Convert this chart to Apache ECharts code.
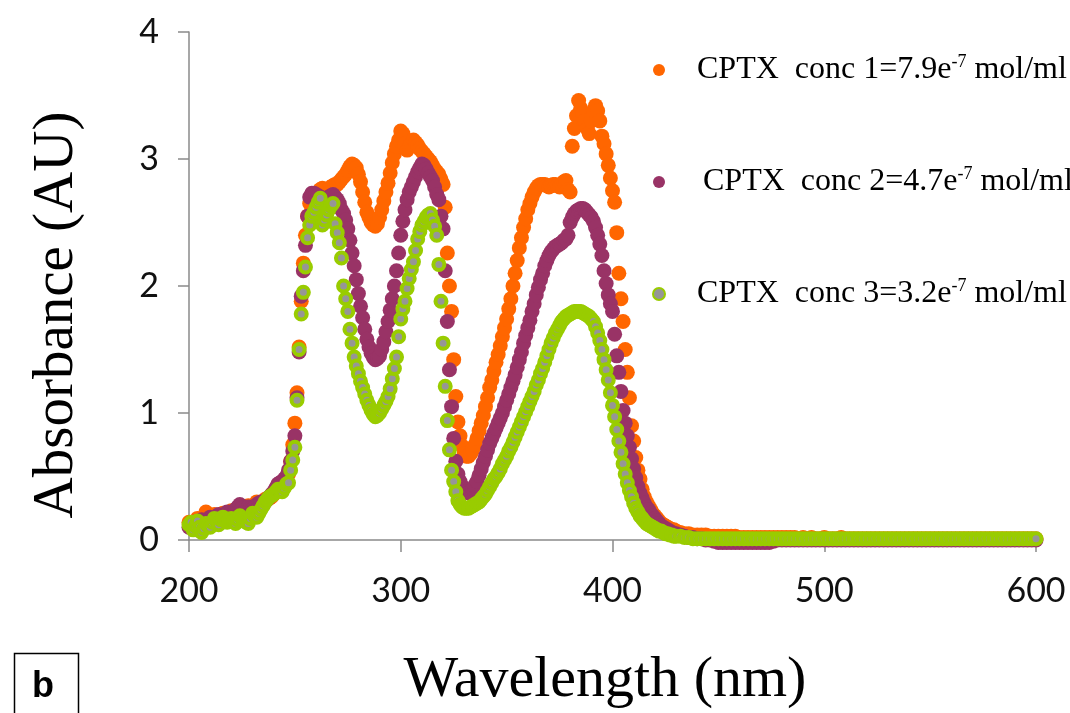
<!DOCTYPE html>
<html>
<head>
<meta charset="utf-8">
<title>CPTX absorbance</title>
<script src="https://cdn.jsdelivr.net/npm/echarts@6/dist/echarts.min.js"></script>
<style>
  html, body { margin: 0; padding: 0; background: #fff; }
  #chart { width: 1070px; height: 713px; }
</style>
</head>
<body>
<div id="chart"></div>
<script>
// wavelength grid (nm): 1 nm steps up to 430, 2 nm in the flat tail
const wavelengths = [
  200,201,202,203,204,205,206,207,208,209,210,211,212,213,214,215,216,217,218,219,
  220,221,222,223,224,225,226,227,228,229,230,231,232,233,234,235,236,237,238,239,
  240,241,242,243,244,245,246,247,248,249,250,251,252,253,254,255,256,257,258,259,
  260,261,262,263,264,265,266,267,268,269,270,271,272,273,274,275,276,277,278,279,
  280,281,282,283,284,285,286,287,288,289,290,291,292,293,294,295,296,297,298,299,
  300,301,302,303,304,305,306,307,308,309,310,311,312,313,314,315,316,317,318,319,
  320,321,322,323,324,325,326,327,328,329,330,331,332,333,334,335,336,337,338,339,
  340,341,342,343,344,345,346,347,348,349,350,351,352,353,354,355,356,357,358,359,
  360,361,362,363,364,365,366,367,368,369,370,371,372,373,374,375,376,377,378,379,
  380,381,382,383,384,385,386,387,388,389,390,391,392,393,394,395,396,397,398,399,
  400,401,402,403,404,405,406,407,408,409,410,411,412,413,414,415,416,417,418,419,
  420,421,422,423,424,425,426,427,428,429,430,
  432,434,436,438,440,442,444,446,448,450,452,454,456,458,460,462,464,466,468,470,
  472,474,476,478,480,482,484,486,488,490,492,494,496,498,500,502,504,506,508,510,
  512,514,516,518,520,522,524,526,528,530,532,534,536,538,540,542,544,546,548,550,
  552,554,556,558,560,562,564,566,568,570,572,574,576,578,580,582,584,586,588,590,
  592,594,596,598,600
];

// conc 1 = 7.9e-7 mol/ml
const conc1 = [
  0.14,0.12,0.10,0.14,0.17,0.15,0.12,0.18,0.22,0.19,0.16,0.18,0.20,0.17,0.14,0.18,0.21,0.19,0.17,0.20,
  0.23,0.21,0.19,0.22,0.25,0.22,0.20,0.24,0.27,0.26,0.25,0.27,0.30,0.28,0.27,0.30,0.32,0.32,0.33,0.34,
  0.36,0.38,0.40,0.41,0.42,0.44,0.47,0.52,0.62,0.75,0.92,1.16,1.52,1.88,2.18,2.40,2.55,2.65,2.70,2.71,
  2.72,2.74,2.76,2.77,2.76,2.75,2.76,2.78,2.79,2.80,2.80,2.82,2.84,2.86,2.88,2.91,2.94,2.96,2.95,2.93,
  2.88,2.82,2.74,2.66,2.58,2.54,2.50,2.48,2.47,2.49,2.54,2.60,2.67,2.74,2.81,2.89,2.97,3.04,3.10,3.15,
  3.22,3.20,3.12,3.07,3.10,3.12,3.15,3.13,3.11,3.08,3.06,3.04,3.02,3.00,2.98,2.95,2.92,2.90,2.88,2.84,
  2.80,2.62,2.26,2.00,1.80,1.42,1.13,0.93,0.82,0.74,0.68,0.66,0.66,0.68,0.71,0.75,0.80,0.86,0.92,0.98,
  1.05,1.12,1.20,1.26,1.33,1.40,1.46,1.53,1.60,1.67,1.74,1.82,1.90,2.00,2.10,2.20,2.30,2.38,2.46,2.53,
  2.60,2.65,2.70,2.74,2.77,2.79,2.80,2.80,2.80,2.79,2.78,2.79,2.80,2.80,2.79,2.78,2.80,2.82,2.83,2.76,
  2.74,3.10,3.24,3.34,3.46,3.40,3.36,3.30,3.24,3.20,3.30,3.38,3.42,3.38,3.30,3.18,3.12,3.04,2.95,2.85,
  2.75,2.66,2.42,2.10,1.90,1.72,1.50,1.32,1.12,0.90,0.78,0.65,0.55,0.48,0.40,0.34,0.30,0.27,0.24,0.21,
  0.19,0.17,0.15,0.13,0.12,0.11,0.10,0.09,0.08,0.08,0.07,
  0.06,0.05,0.05,0.04,0.04,0.04,0.04,0.03,0.03,0.03,0.03,0.03,0.03,0.03,0.02,0.02,0.02,0.02,0.02,0.02,
  0.02,0.02,0.02,0.02,0.02,0.02,0.02,0.02,0.01,0.02,0.01,0.02,0.01,0.01,0.02,0.01,0.01,0.01,0.02,0.01,
  0.01,0.01,0.01,0.01,0.01,0.01,0.01,0.01,0.01,0.01,0.01,0.01,0.01,0.01,0.01,0.01,0.01,0.01,0.01,0.01,
  0.01,0.01,0.01,0.01,0.01,0.01,0.01,0.01,0.01,0.01,0.01,0.01,0.01,0.01,0.01,0.01,0.01,0.01,0.01,0.01,
  0.01,0.01,0.01,0.01,0.01
];

// conc 2 = 4.7e-7 mol/ml
const conc2 = [
  0.10,0.12,0.14,0.11,0.08,0.12,0.16,0.14,0.12,0.15,0.18,0.16,0.14,0.17,0.20,0.18,0.16,0.19,0.22,0.20,
  0.18,0.21,0.24,0.26,0.28,0.25,0.22,0.24,0.26,0.25,0.24,0.26,0.28,0.29,0.30,0.30,0.30,0.32,0.34,0.36,
  0.38,0.41,0.44,0.45,0.46,0.48,0.50,0.55,0.62,0.70,0.82,1.12,1.48,1.92,2.12,2.32,2.55,2.70,2.73,2.73,
  2.72,2.71,2.70,2.69,2.68,2.69,2.70,2.71,2.72,2.70,2.68,2.65,2.60,2.57,2.52,2.45,2.36,2.26,2.16,2.05,
  1.94,1.84,1.75,1.66,1.58,1.52,1.47,1.44,1.42,1.43,1.45,1.50,1.56,1.64,1.72,1.81,1.90,2.00,2.12,2.26,
  2.40,2.51,2.60,2.68,2.74,2.78,2.82,2.86,2.90,2.93,2.96,2.95,2.92,2.89,2.86,2.83,2.78,2.72,2.68,2.55,
  2.45,2.12,1.72,1.34,1.05,0.80,0.62,0.52,0.46,0.42,0.40,0.38,0.37,0.38,0.40,0.43,0.46,0.51,0.56,0.61,
  0.66,0.71,0.76,0.80,0.84,0.88,0.92,0.96,1.00,1.05,1.10,1.15,1.20,1.25,1.30,1.36,1.42,1.48,1.55,1.61,
  1.67,1.73,1.80,1.86,1.93,1.99,2.05,2.10,2.16,2.20,2.24,2.27,2.29,2.31,2.32,2.33,2.34,2.36,2.37,2.40,
  2.50,2.54,2.57,2.59,2.60,2.61,2.61,2.60,2.58,2.56,2.54,2.51,2.46,2.40,2.33,2.24,2.12,2.02,1.93,1.86,
  1.80,1.62,1.45,1.32,1.17,1.02,0.92,0.82,0.73,0.64,0.56,0.49,0.42,0.37,0.33,0.29,0.26,0.24,0.21,0.19,
  0.17,0.15,0.13,0.11,0.10,0.09,0.08,0.07,0.06,0.05,0.05,
  0.04,0.03,0.02,0.02,0.01,0.01,0.00,0.00,-0.01,-0.02,-0.02,-0.02,-0.02,-0.02,-0.02,-0.02,-0.02,-0.02,-0.02,-0.02,
  -0.02,-0.02,-0.01,0.00,0.00,0.00,0.00,0.00,0.00,0.00,0.00,0.00,0.00,0.00,0.00,0.00,0.00,0.00,0.00,0.00,
  0.00,0.00,0.00,0.00,0.00,0.00,0.00,0.00,0.00,0.00,0.00,0.00,0.00,0.00,0.00,0.00,0.00,0.00,0.00,0.00,
  0.00,0.00,0.00,0.00,0.00,0.00,0.00,0.00,0.00,0.00,0.00,0.00,0.00,0.00,0.00,0.00,0.00,0.00,0.00,0.00,
  0.00,0.00,0.00,0.00,0.00
];

// conc 3 = 3.2e-7 mol/ml
const conc3 = [
  0.12,0.14,0.08,0.11,0.15,0.10,0.06,0.09,0.13,0.11,0.10,0.14,0.17,0.15,0.12,0.16,0.18,0.16,0.14,0.15,
  0.17,0.15,0.13,0.16,0.19,0.17,0.15,0.14,0.13,0.17,0.21,0.19,0.18,0.21,0.24,0.27,0.30,0.32,0.34,0.35,
  0.36,0.38,0.40,0.39,0.38,0.41,0.44,0.45,0.55,0.63,0.73,1.10,1.50,1.78,1.95,2.15,2.38,2.48,2.55,2.58,
  2.62,2.66,2.69,2.48,2.52,2.56,2.60,2.63,2.65,2.49,2.42,2.34,2.22,2.00,1.90,1.80,1.66,1.55,1.44,1.37,
  1.31,1.25,1.20,1.15,1.10,1.06,1.02,0.99,0.97,0.98,1.00,1.03,1.06,1.09,1.13,1.19,1.27,1.35,1.44,1.60,
  1.74,1.82,1.88,1.98,2.06,2.13,2.19,2.28,2.37,2.43,2.48,2.51,2.54,2.56,2.57,2.52,2.47,2.40,2.17,1.88,
  1.55,1.21,0.94,0.71,0.55,0.46,0.38,0.31,0.28,0.26,0.25,0.25,0.25,0.26,0.27,0.28,0.29,0.30,0.32,0.34,
  0.36,0.39,0.42,0.45,0.48,0.50,0.53,0.56,0.60,0.63,0.66,0.70,0.73,0.77,0.81,0.85,0.89,0.93,0.97,1.01,
  1.05,1.09,1.13,1.17,1.22,1.26,1.31,1.35,1.40,1.45,1.50,1.55,1.59,1.63,1.66,1.69,1.72,1.74,1.76,1.77,
  1.78,1.79,1.80,1.80,1.80,1.80,1.79,1.78,1.77,1.76,1.74,1.72,1.68,1.63,1.57,1.50,1.42,1.34,1.26,1.16,
  1.06,0.97,0.87,0.78,0.69,0.60,0.52,0.45,0.39,0.34,0.29,0.25,0.22,0.19,0.17,0.15,0.13,0.12,0.11,0.10,
  0.09,0.08,0.07,0.07,0.06,0.05,0.05,0.04,0.04,0.03,0.03,
  0.03,0.02,0.02,0.01,0.01,0.01,0.01,0.01,0.01,0.01,0.01,0.01,0.01,0.01,0.01,0.01,0.01,0.01,0.01,0.01,
  0.01,0.01,0.01,0.01,0.01,0.01,0.01,0.01,0.01,0.01,0.01,0.01,0.01,0.01,0.01,0.01,0.01,0.01,0.01,0.01,
  0.01,0.01,0.01,0.01,0.01,0.01,0.01,0.01,0.01,0.01,0.01,0.01,0.01,0.01,0.01,0.01,0.01,0.01,0.01,0.01,
  0.01,0.01,0.01,0.01,0.01,0.01,0.01,0.01,0.01,0.01,0.01,0.01,0.01,0.01,0.01,0.01,0.01,0.01,0.01,0.01,
  0.01,0.01,0.01,0.01,0.01
];

const seriesNames = ['CPTX  conc 1=7.9e-7 mol/ml', 'CPTX  conc 2=4.7e-7 mol/ml', 'CPTX  conc 3=3.2e-7 mol/ml'];
const legendMain = ['CPTX  conc 1=7.9e', 'CPTX  conc 2=4.7e', 'CPTX  conc 3=3.2e'];
const legendExp = '-7';
const legendUnit = ' mol/ml';
const yTicks = [0, 1, 2, 3, 4];
const xTicks = [200, 300, 400, 500, 600];

const chart = echarts.init(document.getElementById('chart'), null, { renderer: 'canvas' });

function pairs(ys) {
  return wavelengths.map((w, i) => [w, ys[i]]);
}

const axisGray = '#8a8a8a';
const labelFont = 'Lato, "Open Sans", sans-serif';
const serifFont = '"Liberation Serif", "Times New Roman", serif';

const option = {
  animation: false,
  backgroundColor: '#fff',
  grid: { left: 189, right: 34, top: 32, bottom: 173, containLabel: false },
  legend: {
    orient: 'vertical',
    left: 647,
    top: 48,
    itemWidth: 12,
    itemHeight: 12,
    itemGap: 78,
    icon: 'circle',
    selectedMode: false,
    data: seriesNames,
    formatter: function (name) {
      const i = seriesNames.indexOf(name);
      const gap = i === 1 ? '{g2| }' : '{g1| }';
      return gap + legendMain[i] + '{sup|' + legendExp + '}' + legendUnit;
    },
    textStyle: {
      fontFamily: serifFont,
      fontSize: 32,
      lineHeight: 34,
      color: '#000',
      rich: {
        g1: { width: 27 },
        g2: { width: 33 },
        sup: { fontFamily: serifFont, fontSize: 18, lineHeight: 34, verticalAlign: 'top' }
      }
    }
  },
  xAxis: {
    type: 'value',
    min: xTicks[0],
    max: xTicks[xTicks.length - 1],
    interval: 100,
    axisLine: { lineStyle: { color: axisGray, width: 1.5 } },
    axisTick: { show: true, inside: false, length: 12, lineStyle: { color: axisGray, width: 1.5 } },
    axisLabel: { margin: 34, fontFamily: labelFont, fontSize: 34, color: '#111' },
    splitLine: { show: false }
  },
  yAxis: {
    type: 'value',
    min: yTicks[0],
    max: yTicks[yTicks.length - 1],
    interval: 1,
    axisLine: { show: true, lineStyle: { color: axisGray, width: 1.5 } },
    axisTick: { show: true, inside: false, length: 11, lineStyle: { color: axisGray, width: 1.5 } },
    axisLabel: { margin: 30, fontFamily: labelFont, fontSize: 34, color: '#111' },
    splitLine: { show: false }
  },
  series: [
    {
      name: seriesNames[0],
      type: 'scatter',
      clip: false,
      silent: true,
      symbol: 'circle',
      symbolSize: 15,
      itemStyle: { color: '#ff6600', opacity: 1 },
      data: pairs(conc1)
    },
    {
      name: seriesNames[1],
      type: 'scatter',
      clip: false,
      silent: true,
      symbol: 'circle',
      symbolSize: 15,
      itemStyle: { color: '#993366', opacity: 1 },
      data: pairs(conc2)
    },
    {
      name: seriesNames[2],
      type: 'scatter',
      clip: false,
      silent: true,
      symbol: 'circle',
      symbolSize: 11,
      itemStyle: { color: '#969696', borderColor: '#99cc00', borderWidth: 4, opacity: 1 },
      data: pairs(conc3)
    }
  ],
  graphic: [
    {
      // y axis title
      type: 'text',
      x: 57,
      y: 315,
      rotation: Math.PI / 2,
      style: {
        text: 'Absorbance (AU)',
        font: '57px "Liberation Serif", "Times New Roman", serif',
        fill: '#000',
        align: 'center',
        verticalAlign: 'middle'
      }
    },
    {
      // x axis title
      type: 'text',
      x: 605,
      y: 681,
      style: {
        text: 'Wavelength (nm)',
        font: '58px "Liberation Serif", "Times New Roman", serif',
        fill: '#000',
        align: 'center',
        verticalAlign: 'middle'
      }
    },
    {
      type: 'rect',
      shape: { x: 14.5, y: 653.5, width: 64, height: 80 },
      style: { fill: 'none', stroke: '#000', lineWidth: 1.5 }
    },
    {
      type: 'text',
      x: 43,
      y: 687,
      style: {
        text: 'b',
        font: 'bold 36px "Liberation Sans", Arial, sans-serif',
        fill: '#000',
        align: 'center',
        verticalAlign: 'middle'
      }
    }
  ]
};

chart.setOption(option);
</script>
</body>
</html>
